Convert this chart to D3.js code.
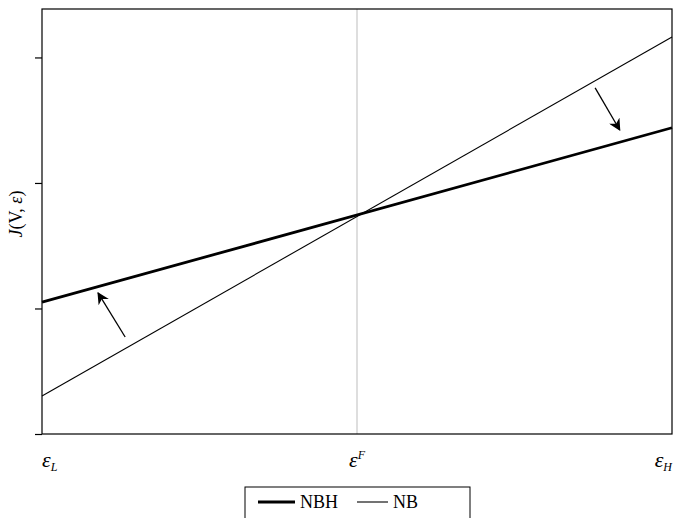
<!DOCTYPE html>
<html>
<head>
<meta charset="utf-8">
<script src="https://cdn.jsdelivr.net/npm/d3@7"></script>
<style>
  body { margin: 0; background: #fff; }
  svg { display: block; font-family: "Liberation Serif", "Times New Roman", serif; }
</style>
</head>
<body>
<svg id="chart" width="675" height="518"></svg>
<script>
// data (x: 0 = eps_L, 1 = eps_H)
var xPoints = [0, 1];
var nbhValues = [1.05, 2.44];
var nbValues = [0.303, 3.163];
var yTicks = [0, 1, 2, 3];
var xLabels = [
  { v: 0, sub: "L", sup: "", anchor: "start" },
  { v: 0.5, sub: "", sup: "F", anchor: "middle" },
  { v: 1, sub: "H", sup: "", anchor: "end" }
];
var arrows = [
  { x1: 0.132, y1: 0.773, x2: 0.089, y2: 1.124 },
  { x1: 0.878, y1: 2.757, x2: 0.917, y2: 2.422 }
];
var seriesNames = ["NBH", "NB"];

(function () {
  var svg = d3.select("#chart"),
      pl = 42, pr = 672, pt = 9, pb = 434;

  var x = d3.scaleLinear().domain([0, 1]).range([pl, pr]),
      y = d3.scaleLinear().domain([0, 3.386]).range([pb, pt]);

  // arrow head
  svg.append("defs").append("marker")
    .attr("id", "head")
    .attr("viewBox", "0 0 10 10")
    .attr("refX", 9).attr("refY", 5)
    .attr("markerWidth", 12).attr("markerHeight", 12)
    .attr("markerUnits", "userSpaceOnUse")
    .attr("orient", "auto")
    .append("path")
    .attr("d", "M0,0 L10,5 L0,10 L3,5 Z")
    .attr("fill", "#000");

  // grey reference line at eps^F
  svg.append("line")
    .attr("x1", x(0.5)).attr("x2", x(0.5))
    .attr("y1", pt).attr("y2", pb)
    .attr("stroke", "#c8c8c8").attr("stroke-width", 1.2);

  // frame
  svg.append("rect")
    .attr("x", pl).attr("y", pt)
    .attr("width", pr - pl).attr("height", pb - pt)
    .attr("fill", "none").attr("stroke", "#000").attr("stroke-width", 1.2);

  // y axis ticks (no labels)
  svg.append("g")
    .attr("transform", "translate(" + pl + ",0)")
    .call(d3.axisLeft(y).tickValues(yTicks).tickSize(7).tickFormat(""))
    .call(function (g) { g.select(".domain").remove(); })
    .selectAll("line").attr("stroke-width", 1.2);

  // series lines
  var line = d3.line()
    .x(function (d) { return x(d[0]); })
    .y(function (d) { return y(d[1]); });

  svg.append("path")
    .datum(d3.zip(xPoints, nbValues))
    .attr("d", line)
    .attr("fill", "none").attr("stroke", "#000").attr("stroke-width", 1.1);

  svg.append("path")
    .datum(d3.zip(xPoints, nbhValues))
    .attr("d", line)
    .attr("fill", "none").attr("stroke", "#000").attr("stroke-width", 2.8);

  // arrows
  svg.selectAll(".arrow")
    .data(arrows)
    .enter().append("line")
    .attr("class", "arrow")
    .attr("x1", function (d) { return x(d.x1); })
    .attr("y1", function (d) { return y(d.y1); })
    .attr("x2", function (d) { return x(d.x2); })
    .attr("y2", function (d) { return y(d.y2); })
    .attr("stroke", "#000").attr("stroke-width", 1.3)
    .attr("marker-end", "url(#head)");

  // x labels
  var lab = svg.selectAll(".xlab")
    .data(xLabels)
    .enter().append("text")
    .attr("class", "xlab")
    .attr("x", function (d) { return x(d.v); })
    .attr("y", 467)
    .attr("text-anchor", function (d) { return d.anchor; })
    .attr("font-size", 22)
    .attr("font-style", "italic");
  lab.append("tspan").text("ε");
  lab.append("tspan")
    .attr("font-size", 12)
    .attr("dy", function (d) { return d.sub ? 4 : -8; })
    .text(function (d) { return d.sub || d.sup; });

  // y label
  var yl = svg.append("text")
    .attr("transform", "translate(22,214) rotate(-90)")
    .attr("text-anchor", "middle")
    .attr("font-size", 18);
  yl.append("tspan").attr("font-style", "italic").text("J");
  yl.append("tspan").text("(V, ");
  yl.append("tspan").attr("font-style", "italic").text("ε");
  yl.append("tspan").text(")");

  // legend
  var lg = svg.append("g").attr("transform", "translate(245,487)");
  lg.append("rect")
    .attr("width", 225).attr("height", 40)
    .attr("fill", "#fff").attr("stroke", "#000").attr("stroke-width", 1);
  var items = [
    { name: seriesNames[0], w: 2.8, x0: 13, len: 37 },
    { name: seriesNames[1], w: 1.1, x0: 112, len: 31 }
  ];
  items.forEach(function (it) {
    lg.append("line")
      .attr("x1", it.x0).attr("x2", it.x0 + it.len)
      .attr("y1", 15).attr("y2", 15)
      .attr("stroke", "#000").attr("stroke-width", it.w);
    lg.append("text")
      .attr("x", it.x0 + it.len + 5).attr("y", 21)
      .attr("font-size", 18)
      .text(it.name);
  });
})();
</script>
</body>
</html>
